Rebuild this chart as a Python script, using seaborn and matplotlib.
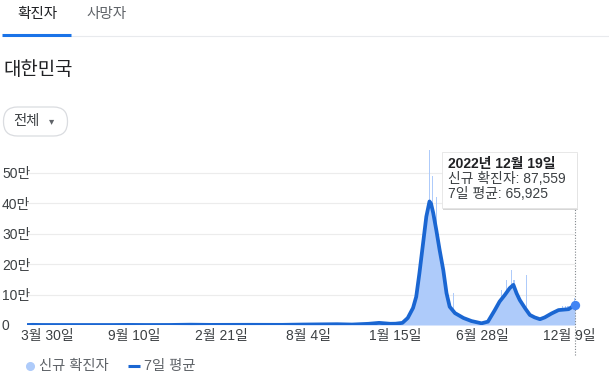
"""South Korea daily confirmed cases with 7-day average (Google-style card)."""

import matplotlib.pyplot as plt
import pandas as pd
import seaborn as sns
from matplotlib.lines import Line2D
from matplotlib.patches import FancyBboxPatch
from matplotlib.transforms import Affine2D

# 7-day average
avg_dates = [
    "2020-02-21", "2020-03-03", "2020-03-20", "2020-05-01", "2020-08-01", "2020-08-28",
    "2020-10-01", "2020-11-15", "2020-12-25", "2021-02-01", "2021-04-15", "2021-06-15",
    "2021-07-25", "2021-09-27", "2021-10-25", "2021-11-25", "2021-12-15", "2022-01-05",
    "2022-01-15", "2022-01-28", "2022-02-07", "2022-02-17", "2022-02-23", "2022-03-01",
    "2022-03-08", "2022-03-14", "2022-03-20", "2022-03-23", "2022-03-27", "2022-04-02",
    "2022-04-08", "2022-04-15", "2022-04-21", "2022-04-27", "2022-05-07", "2022-05-23",
    "2022-06-07", "2022-06-26", "2022-07-08", "2022-07-21", "2022-07-30", "2022-08-09",
    "2022-08-18", "2022-08-25", "2022-08-31", "2022-09-06", "2022-09-16", "2022-09-25",
    "2022-10-04", "2022-10-14", "2022-10-23", "2022-11-05", "2022-11-18", "2022-12-07",
    "2022-12-19",
]
avg_values = [
    50, 550, 120, 10, 30, 350,
    80, 150, 1050, 400, 650, 500,
    1550, 2600, 1500, 3900, 7000, 4000,
    4300, 7000, 23000, 56000, 93000, 170000,
    270000, 356000, 406000, 398000, 368000, 310000,
    247000, 180000, 105000, 60000, 39000, 23000,
    13000, 5500, 11000, 49000, 77000, 99000,
    121000, 132000, 104000, 82000, 55000, 33000,
    25000, 19000, 25000, 38000, 49000, 52000,
    65925,
]

# daily new cases that stick out above the average
spike_dates = [
    "2022-02-28", "2022-03-20", "2022-03-26", "2022-04-02", "2022-05-04",
    "2022-08-02", "2022-08-12", "2022-08-21", "2022-08-26", "2022-09-19",
    "2022-11-25", "2022-12-01", "2022-12-06", "2022-12-13", "2022-12-19",
]
spike_values = [
    175000, 600000, 490000, 420000, 105000,
    115000, 148000, 180000, 148000, 164000,
    62000, 63000, 64000, 70000, 87559,
]

tick_dates = ["2020-03-30", "2020-09-10", "2021-02-21", "2021-08-04",
              "2022-01-15", "2022-06-28", "2022-12-09"]
tick_labels = ["3월 30일", "9월 10일", "2월 21일", "8월 4일",
               "1월 15일", "6월 28일", "12월 9일"]
y_ticks = [0, 100000, 200000, 300000, 400000, 500000]
y_labels = ["0", "10만", "20만", "30만", "40만", "50만"]

LINE = "#1a66d2"
FILL = "#aecbfa"
DARK = "#202124"
GREY = "#5f6368"

sns.set_theme(style="white")
plt.rcParams["font.family"] = ["Liberation Sans", "Noto Sans CJK KR"]

W, H = 609, 387

fig = plt.figure(figsize=(W / 100, H / 100), dpi=100)
# pixel coordinates measured from the top-left corner
pix = Affine2D().scale(1, -1).translate(0, H).scale(1 / W, 1 / H) + fig.transFigure

avg = pd.DataFrame({"date": pd.to_datetime(avg_dates), "value": avg_values})
spikes = pd.DataFrame({"date": pd.to_datetime(spike_dates), "value": spike_values})

ax = fig.add_axes([27 / W, 1 - 325 / H, 548 / W, 175 / H])

ax.fill_between(avg["date"], avg["value"], color=FILL, lw=0, zorder=1)
ax.bar(spikes["date"], spikes["value"], width=2.4, color=FILL, lw=0, zorder=1)
sns.lineplot(data=avg, x="date", y="value", color=LINE, lw=2.7, ax=ax, zorder=3)
ax.scatter(avg["date"].iloc[-1], avg["value"].iloc[-1], s=45, color="#4285f4",
           zorder=4, lw=0, clip_on=False)
ax.axvline(avg["date"].iloc[-1], ymin=-0.172, ymax=0.687, color="#80868b",
           lw=0.8, ls=(0, (1, 1.5)), clip_on=False, zorder=2)

ax.set_xlim(avg["date"].iloc[0], avg["date"].iloc[-1])
ax.set_ylim(0, 575000)
ax.set_xticks(pd.to_datetime(tick_dates))
ax.set_xticklabels(tick_labels)
ax.set_yticks(y_ticks)
ax.set_yticklabels(y_labels)
for lbl in ax.get_yticklabels():
    lbl.set_ha("left")
ax.tick_params(axis="y", length=0, pad=18, labelsize=10, labelcolor="#3c4043")
ax.tick_params(axis="x", length=0, pad=3, labelsize=10, labelcolor="#3c4043")
ax.set_xlabel("")
ax.set_ylabel("")
ax.grid(axis="y", color="#ececec", lw=0.8)
ax.grid(axis="x", visible=False)
sns.despine(ax=ax, left=True, bottom=True)

# tabs
fig.text(37, 14, "확진자", transform=pix, fontsize=10.5, color=DARK, ha="center", va="center")
fig.text(107, 14, "사망자", transform=pix, fontsize=10.5, color=GREY, ha="center", va="center")
fig.add_artist(Line2D([70, W], [36, 36], transform=pix, color="#e8eaed", lw=0.8))
fig.add_artist(Line2D([2, 71], [34.5, 34.5], transform=pix, color="#1a73e8", lw=2.2,
                      solid_capstyle="butt"))

fig.text(3, 70, "대한민국", transform=pix, fontsize=13.6, color=DARK, ha="left", va="center")

# dropdown pill
fig.add_artist(FancyBboxPatch((3.5, 107), 64, 29, boxstyle="round,pad=0,rounding_size=14",
                              transform=pix, fc="white", ec="#dadce0", lw=0.9))
fig.text(13, 121.5, "전체", transform=pix, fontsize=10.3, color="#3c4043", ha="left",
         va="center")
fig.text(52, 121.5, "▾", transform=pix, fontsize=7.5, color=GREY, ha="center",
         va="center", family=["DejaVu Sans"])

# tooltip
fig.add_artist(FancyBboxPatch((443, 153.5), 135, 56, boxstyle="square,pad=0",
                              transform=pix, fc="#d6d6d6", ec="none", zorder=5))
fig.add_artist(FancyBboxPatch((441.5, 152), 135, 56, boxstyle="square,pad=0",
                              transform=pix, fc="white", ec="#e4e4e4", lw=0.6, zorder=6))
fig.text(448, 164, "2022년 12월 19일", transform=pix, fontsize=10, color=DARK,
         fontweight="bold", va="center", zorder=7)
fig.text(448, 179, "신규 확진자: 87,559", transform=pix, fontsize=10, color="#3c4043",
         va="center", zorder=7)
fig.text(448, 193.5, "7일 평균: 65,925", transform=pix, fontsize=10, color="#3c4043",
         va="center", zorder=7)

# legend
fig.add_artist(Line2D([29.5], [365.5], transform=pix, marker="o", ms=5.5, color=FILL, lw=0))
fig.text(39, 366, "신규 확진자", transform=pix, fontsize=10.3, color=GREY, va="center")
fig.add_artist(Line2D([128, 140], [365.5, 365.5], transform=pix, color=LINE, lw=2.2,
                      solid_capstyle="butt"))
fig.text(144, 366, "7일 평균", transform=pix, fontsize=10.3, color=GREY, va="center")

fig.savefig("out.png", dpi=100)
